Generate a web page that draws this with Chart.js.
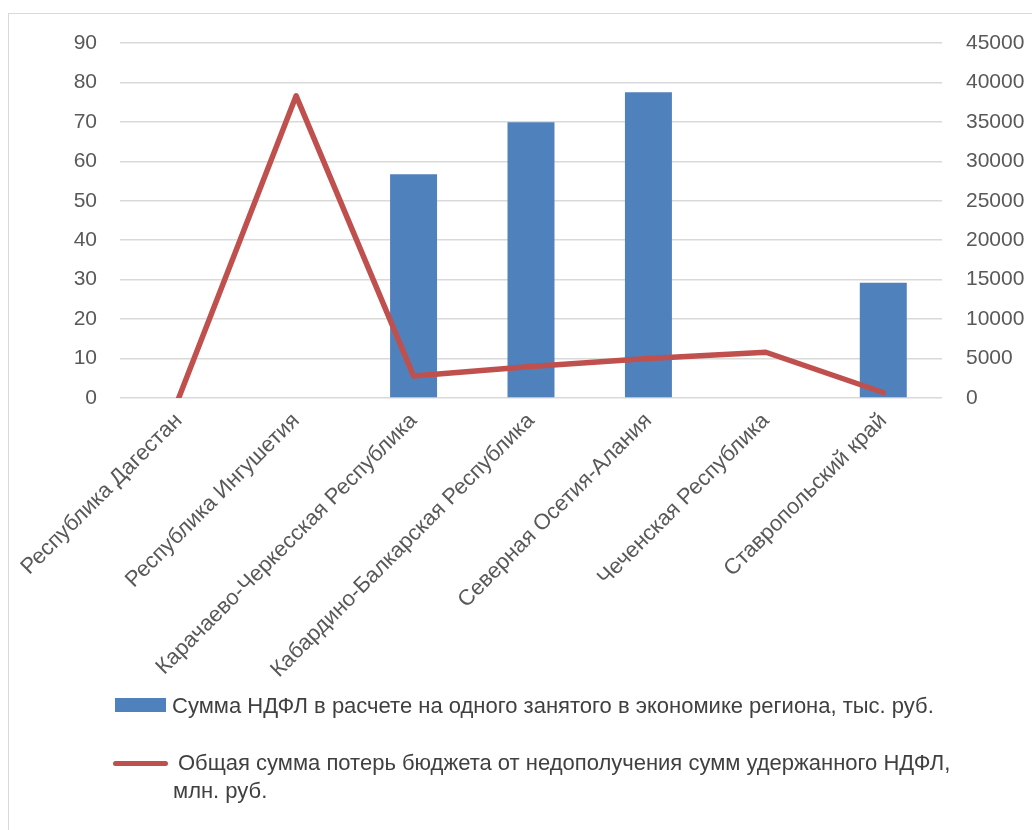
<!DOCTYPE html>
<html>
<head>
<meta charset="utf-8">
<script src="https://cdn.jsdelivr.net/npm/chart.js@4.4.1/dist/chart.umd.min.js"></script>
<style>
  html, body { margin: 0; padding: 0; background: #fff; }
  body { width: 1032px; height: 830px; position: relative; overflow: hidden; font-family: "Liberation Sans", Arial, sans-serif; }
  #frame { position: absolute; left: 8px; top: 13px; width: 1100px; height: 900px; border: 1px solid #d9d9d9; box-sizing: border-box; }
  #wrap { position: absolute; left: 0; top: 0; width: 1032px; height: 690px; }
  #legend { position: absolute; left: 0; top: 0; width: 1032px; height: 830px; pointer-events: none; }
  .lg-item { position: absolute; color: #404040; font-size: 22px; line-height: 28px; white-space: pre-line; }
  .sw { position: absolute; }
</style>
</head>
<body>
<div id="frame"></div>
<div id="wrap"><canvas id="c" width="1032" height="690"></canvas></div>
<div id="legend"></div>
<script>
const categories = [
  "Республика Дагестан",
  "Республика Ингушетия",
  "Карачаево-Черкесская Республика",
  "Кабардино-Балкарская Республика",
  "Северная Осетия-Алания",
  "Чеченская Республика",
  "Ставропольский край"
];
const ndflPerEmployed = [0, 0, 56.7, 69.9, 77.5, 0, 29.2];
const budgetLosses = [0, 38300, 2800, 4000, 5000, 5800, 700];
const barLabel = "Сумма НДФЛ в расчете на одного занятого в экономике региона, тыс. руб.";
const lineLabel = "Общая сумма потерь бюджета от недополучения сумм удержанного НДФЛ,\nмлн. руб.";
const leftTicks = [0, 10, 20, 30, 40, 50, 60, 70, 80, 90];
const rightTicks = [0, 5000, 10000, 15000, 20000, 25000, 30000, 35000, 40000, 45000];

const FONT = '"Liberation Sans", Arial, sans-serif';
const tickColor = '#595959';

const chart = new Chart(document.getElementById('c'), {
  data: {
    labels: categories,
    datasets: [
      {
        type: 'line',
        label: lineLabel,
        data: budgetLosses,
        yAxisID: 'y1',
        borderColor: '#c0504d',
        backgroundColor: '#c0504d',
        borderWidth: 5.5,
        pointRadius: 0,
        borderCapStyle: 'round',
        borderJoinStyle: 'round',
        tension: 0,
        order: 0
      },
      {
        type: 'bar',
        label: barLabel,
        data: ndflPerEmployed,
        yAxisID: 'y',
        backgroundColor: '#4f81bd',
        borderWidth: 0,
        categoryPercentage: 1.0,
        barPercentage: 0.4,
        order: 1
      }
    ]
  },
  options: {
    responsive: false,
    animation: false,
    events: [],
    layout: { padding: { top: 43, left: 0, right: 0, bottom: 0 } },
    plugins: { legend: { display: false }, tooltip: { enabled: false } },
    scales: {
      x: {
        grid: { display: false, drawTicks: false },
        border: { display: false },
        ticks: {
          color: tickColor,
          font: { family: FONT, size: 22 },
          minRotation: 45,
          maxRotation: 45,
          autoSkip: false,
          padding: 10
        },
        afterFit: (s) => { s.height = 292; }
      },
      y: {
        position: 'left',
        min: 0, max: 90,
        afterBuildTicks: (s) => { s.ticks = leftTicks.map(v => ({ value: v })); },
        grid: { color: '#d9d9d9', lineWidth: 1.5, drawTicks: false },
        border: { display: false },
        ticks: { color: tickColor, font: { family: FONT, size: 21 }, padding: 23, callback: (v) => String(v) },
        afterFit: (s) => { s.width = 120; }
      },
      y1: {
        position: 'right',
        min: 0, max: 45000,
        afterBuildTicks: (s) => { s.ticks = rightTicks.map(v => ({ value: v })); },
        grid: { display: false, drawTicks: false },
        border: { display: false },
        ticks: { color: tickColor, font: { family: FONT, size: 21 }, padding: 24, callback: (v) => String(v) },
        afterFit: (s) => { s.width = 90; }
      }
    }
  }
});

// HTML legend built from the chart's datasets
const legend = document.getElementById('legend');
const legendSpec = [
  { ds: 1, top: 692, left: 172, swatch: { left: 115, top: 698, width: 51, height: 14, radius: 0 } },
  { ds: 0, top: 749, left: 173, indent: 5, swatch: { left: 113, top: 760.5, width: 55, height: 5, radius: 3 } }
];
legendSpec.forEach(spec => {
  const d = chart.data.datasets[spec.ds];
  const sw = document.createElement('div');
  sw.className = 'sw';
  Object.assign(sw.style, {
    left: spec.swatch.left + 'px', top: spec.swatch.top + 'px',
    width: spec.swatch.width + 'px', height: spec.swatch.height + 'px',
    borderRadius: spec.swatch.radius + 'px',
    background: d.type === 'line' ? d.borderColor : d.backgroundColor
  });
  legend.appendChild(sw);
  const t = document.createElement('div');
  t.className = 'lg-item';
  t.style.left = spec.left + 'px';
  t.style.top = spec.top + 'px';
  if (spec.indent) t.style.textIndent = spec.indent + 'px';
  t.textContent = d.label;
  legend.appendChild(t);
});
</script>
</body>
</html>
